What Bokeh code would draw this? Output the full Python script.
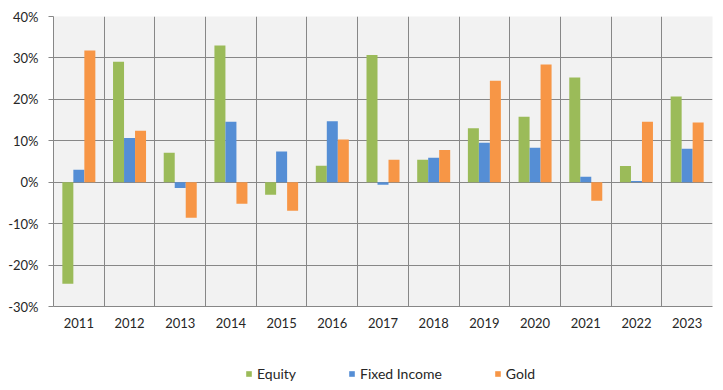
from bokeh.plotting import figure
from bokeh.layouts import column
from bokeh.models import (ColumnDataSource, Range1d, FixedTicker, NumeralTickFormatter,
                          Legend, LegendItem)
from bokeh.transform import dodge
from bokeh.embed import file_html
from bokeh.resources import INLINE

years = ["2011", "2012", "2013", "2014", "2015", "2016", "2017",
         "2018", "2019", "2020", "2021", "2022", "2023"]
equity = [-0.245, 0.291, 0.071, 0.330, -0.030, 0.040, 0.307,
          0.054, 0.130, 0.158, 0.253, 0.039, 0.207]
fixed_income = [0.030, 0.107, -0.014, 0.146, 0.074, 0.147, -0.006,
                0.059, 0.095, 0.083, 0.013, 0.003, 0.081]
gold = [0.318, 0.124, -0.086, -0.052, -0.069, 0.103, 0.054,
        0.078, 0.245, 0.284, -0.045, 0.146, 0.144]
series_names = ["Equity", "Fixed Income", "Gold"]
y_ticks = [-0.3, -0.2, -0.1, 0.0, 0.1, 0.2, 0.3, 0.4]

FONT = "Lato"
TEXT = "#262626"
GRID = "#878787"
COLORS = ["#9BBB59", "#558ED5", "#F79646"]

xs = [i + 0.5 for i in range(len(years))]
src = ColumnDataSource(dict(x=xs, equity=equity, fixed=fixed_income, gold=gold))

p = figure(width=723, height=340, output_backend="svg", toolbar_location=None,
           x_range=Range1d(0, len(years)), y_range=Range1d(y_ticks[0], y_ticks[-1]),
           min_border_left=53, min_border_right=11, min_border_top=16, min_border_bottom=34)
p.background_fill_color = "#F2F2F2"
p.border_fill_color = "white"
p.outline_line_color = None

bw = 0.217
for off, col, c in zip([-bw, 0, bw], ["equity", "fixed", "gold"], COLORS):
    p.vbar(x=dodge("x", off, range=p.x_range), top=col, bottom=0, width=bw,
           source=src, fill_color=c, line_color=None)

# grids
p.xgrid.ticker = FixedTicker(ticks=list(range(len(years) + 1)))
p.ygrid.ticker = FixedTicker(ticks=y_ticks)
for g in (p.xgrid, p.ygrid):
    g.grid_line_color = GRID
    g.grid_line_width = 1
    g.level = "underlay"

# y axis
ya = p.yaxis[0]
ya.ticker = FixedTicker(ticks=y_ticks)
ya.formatter = NumeralTickFormatter(format="0%")
ya.axis_line_color = GRID
ya.major_tick_line_color = GRID
ya.major_tick_out = 5
ya.major_tick_in = 0
ya.minor_tick_line_color = None
ya.major_label_standoff = 10
ya.major_label_text_font = FONT
ya.major_label_text_font_size = "13px"
ya.major_label_text_color = TEXT

# x axis
xa = p.xaxis[0]
xa.ticker = FixedTicker(ticks=xs)
xa.major_label_overrides = {x: y for x, y in zip(xs, years)}
xa.axis_line_color = GRID
xa.major_tick_line_color = None
xa.major_tick_out = 0
xa.major_tick_in = 0
xa.minor_tick_line_color = None
xa.major_label_standoff = 11
xa.major_label_text_font = FONT
xa.major_label_text_font_size = "13px"
xa.major_label_text_color = TEXT

# legend strip below the chart (zero-width swatch renderers, far outside its visible range)
lf = figure(width=723, height=50, output_backend="svg", toolbar_location=None,
            x_range=Range1d(0, 1), y_range=Range1d(0, 1),
            x_axis_location=None, y_axis_location=None,
            min_border=0, min_border_left=0, min_border_right=0,
            min_border_top=0, min_border_bottom=0)
lf.grid.visible = False
lf.outline_line_color = None
lf.background_fill_color = "white"
lf.border_fill_color = "white"
items = []
for name, c in zip(series_names, COLORS):
    r = lf.vbar(x=[0.5], top=[11], bottom=[10], width=0, fill_color=c, line_color=None)
    items.append(LegendItem(label=name, renderers=[r]))

legend = Legend(items=items, orientation="horizontal", location=(192, 8),
                glyph_width=7, glyph_height=7, label_height=14, label_standoff=5,
                spacing=52, padding=0, margin=0,
                background_fill_alpha=0, border_line_color=None,
                label_text_font=FONT, label_text_font_size="14px",
                label_text_color=TEXT)
lf.add_layout(legend, "center")

layout = column(p, lf, spacing=0)
open("out.html", "w").write(file_html(layout, INLINE))
